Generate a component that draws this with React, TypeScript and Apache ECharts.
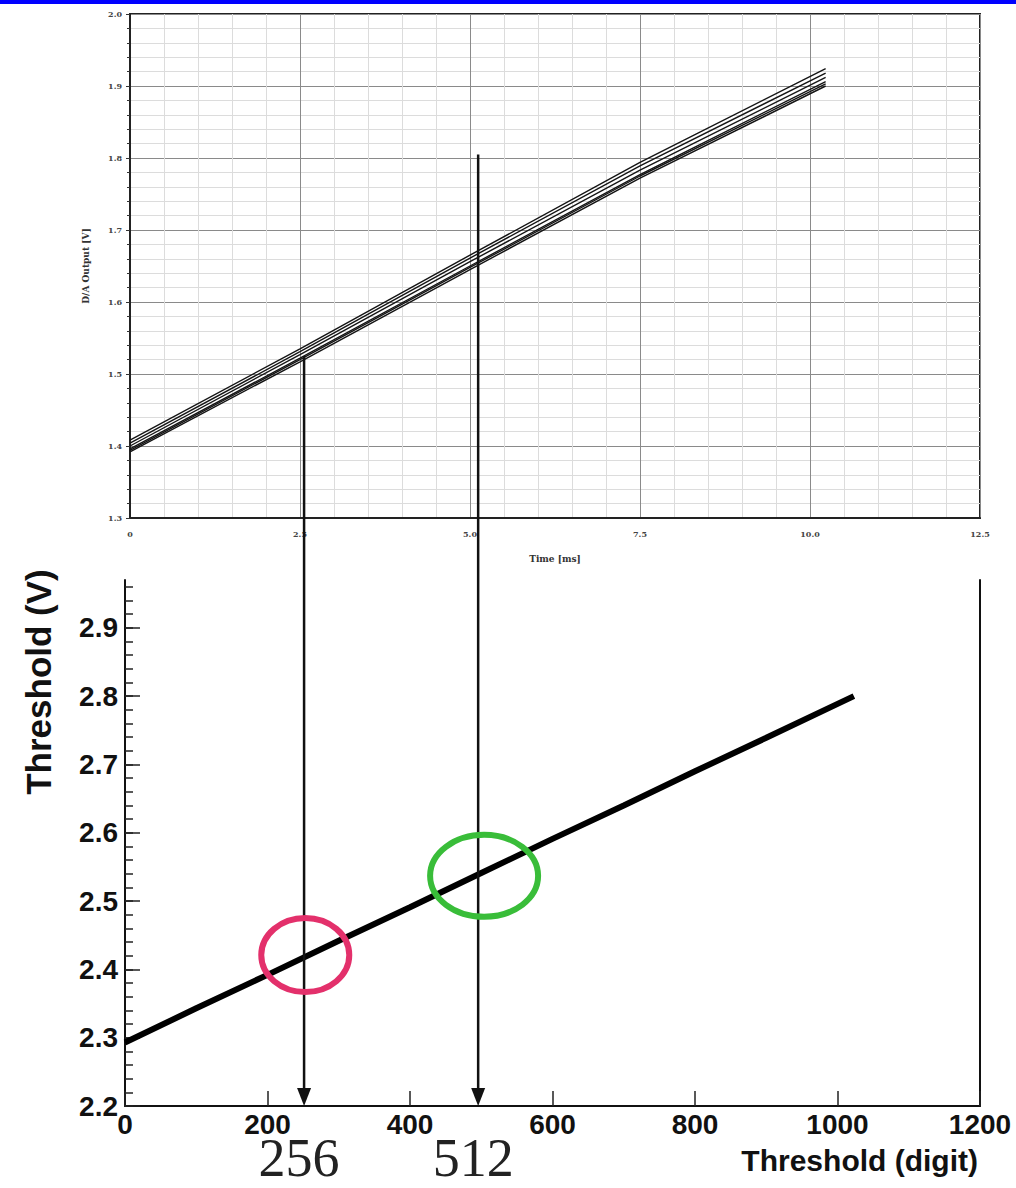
import React, { useEffect, useRef } from "react";
import * as echarts from "echarts";

// ---- Top chart: D/A output vs time (several runs) ----
const TIME_MS = [0, 2.5, 5, 7.5, 10.23];
const DA_RUN_1 = [1.392, 1.517, 1.645, 1.772, 1.9];
const DA_RUN_2 = [1.396, 1.522, 1.65, 1.777, 1.906];
const DA_RUN_3 = [1.4, 1.527, 1.656, 1.783, 1.912];
const DA_RUN_4 = [1.404, 1.531, 1.661, 1.789, 1.918];
const DA_RUN_5 = [1.408, 1.535, 1.665, 1.794, 1.924];
const DA_RUN_6 = [1.394, 1.52, 1.648, 1.775, 1.903];
const DA_RUNS = [DA_RUN_1, DA_RUN_2, DA_RUN_3, DA_RUN_4, DA_RUN_5, DA_RUN_6];

// ---- Bottom chart: threshold (V) vs threshold (digit) ----
const DIGITS = [0, 100, 200, 300, 400, 500, 600, 700, 800, 900, 1023];
const THRESHOLD_V = [2.293, 2.343, 2.392, 2.442, 2.491, 2.541, 2.591, 2.64, 2.69, 2.739, 2.8];

// ---- Tick labels ----
const BOTTOM_Y_LABELS = [2.2, 2.3, 2.4, 2.5, 2.6, 2.7, 2.8, 2.9];
const BOTTOM_Y_MINOR_STEP = 0.02;

// ---- Annotations ----
const MARKED_DIGITS = [256, 512];
const MS_PER_DIGIT = 0.01;
const ARROW_START_V = [1.525, 1.805];
const CIRCLE_CENTERS = [
  [253, 2.421],
  [504, 2.537],
];
const CIRCLE_COLORS = ["#e3306b", "#39bd39"];
const CIRCLE_RADII = [
  [44, 37],
  [54, 41],
];

export default function App() {
  const ref = useRef<HTMLDivElement>(null);

  useEffect(() => {
    if (!ref.current) return;
    const chart = echarts.init(ref.current, null, { renderer: "svg" });

    const minorTicks: number[] = [];
    for (let v = 2.2; v < 2.97 - 1e-9; v += BOTTOM_Y_MINOR_STEP) {
      minorTicks.push(Math.round(v * 100) / 100);
    }

    const smallFont = {
      fontFamily: "DejaVu Serif",
      fontWeight: "bold" as const,
      fontSize: 8,
      color: "#444",
    };
    const bigFont = {
      fontFamily: "Liberation Sans",
      fontWeight: "bold" as const,
      fontSize: 28,
      color: "#111",
    };

    const option: any = {
      animation: false,
      backgroundColor: "#ffffff",
      grid: [
        {
          left: 130,
          top: 14,
          width: 850,
          height: 504,
          show: true,
          borderColor: "#222",
          borderWidth: 2,
        },
        { left: 125, top: 580, width: 855, height: 526 },
      ],
      xAxis: [
        {
          type: "value",
          gridIndex: 0,
          min: 0,
          max: 12.5,
          interval: 2.5,
          axisLine: { show: true, lineStyle: { color: "#222", width: 2 } },
          axisTick: { show: false },
          minorTick: { show: false, splitNumber: 5 },
          splitLine: { show: true, lineStyle: { color: "#8a8a8a", width: 1 } },
          minorSplitLine: { show: true, lineStyle: { color: "#dcdcdc", width: 1 } },
          axisLabel: {
            ...smallFont,
            margin: 12,
            formatter: (v: number) => (v === 0 ? "0" : v.toFixed(1)),
          },
          name: "Time [ms]",
          nameLocation: "middle",
          nameGap: 36,
          nameTextStyle: { ...smallFont, fontSize: 9, color: "#333" },
        },
        {
          type: "value",
          gridIndex: 1,
          min: 0,
          max: 1200,
          interval: 200,
          axisLine: { show: true, lineStyle: { color: "#111", width: 2 } },
          axisTick: { show: true, inside: true, length: 15, lineStyle: { color: "#222", width: 1.5 } },
          splitLine: { show: false },
          axisLabel: { ...bigFont, margin: 4, formatter: (v: number) => String(v) },
        },
      ],
      yAxis: [
        {
          type: "value",
          gridIndex: 0,
          min: 1.3,
          max: 2.0,
          interval: 0.1,
          axisLine: { show: true, lineStyle: { color: "#222", width: 2 } },
          axisTick: { show: true, length: 4, lineStyle: { color: "#333" } },
          minorTick: { show: true, splitNumber: 5, length: 3, lineStyle: { color: "#333" } },
          splitLine: { show: true, lineStyle: { color: "#8a8a8a", width: 1 } },
          minorSplitLine: { show: true, lineStyle: { color: "#dcdcdc", width: 1 } },
          axisLabel: { ...smallFont, margin: 8, formatter: (v: number) => v.toFixed(1) },
          name: "D/A Output [V]",
          nameLocation: "middle",
          nameGap: 40,
          nameTextStyle: { ...smallFont, fontSize: 9, color: "#333" },
        },
        {
          type: "value",
          gridIndex: 1,
          position: "left",
          min: 2.2,
          max: 2.97,
          axisLine: { show: true, lineStyle: { color: "#111", width: 2 } },
          axisTick: {
            show: true,
            inside: true,
            length: 15,
            customValues: BOTTOM_Y_LABELS,
            lineStyle: { color: "#222", width: 1.5 },
          },
          splitLine: { show: false },
          axisLabel: {
            ...bigFont,
            margin: 7,
            customValues: BOTTOM_Y_LABELS,
            formatter: (v: number) => v.toFixed(1),
          },
        },
        {
          type: "value",
          gridIndex: 1,
          position: "left",
          offset: 0,
          min: 2.2,
          max: 2.97,
          axisLine: { show: false },
          axisTick: {
            show: true,
            inside: true,
            length: 8,
            customValues: minorTicks,
            lineStyle: { color: "#222", width: 1.5 },
          },
          axisLabel: { show: false },
          splitLine: { show: false },
        },
        {
          type: "value",
          gridIndex: 1,
          position: "right",
          min: 2.2,
          max: 2.97,
          axisLine: { show: true, lineStyle: { color: "#111", width: 2 } },
          axisTick: { show: false },
          axisLabel: { show: false },
          splitLine: { show: false },
        },
      ],
      series: [
        ...DA_RUNS.map((run, k) => ({
          name: "run" + (k + 1),
          type: "line",
          xAxisIndex: 0,
          yAxisIndex: 0,
          data: TIME_MS.map((t, i) => [t, run[i]]),
          showSymbol: false,
          silent: true,
          lineStyle: { color: "#151515", width: 1.4 },
        })),
        {
          name: "threshold",
          type: "line",
          xAxisIndex: 1,
          yAxisIndex: 1,
          data: DIGITS.map((d, i) => [d, THRESHOLD_V[i]]),
          showSymbol: false,
          silent: true,
          lineStyle: { color: "#000", width: 6 },
        },
      ],
    };

    chart.setOption(option);

    const toTop = (x: number, y: number) =>
      chart.convertToPixel({ gridIndex: 0 } as any, [x, y]) as number[];
    const toBottom = (x: number, y: number) =>
      chart.convertToPixel({ gridIndex: 1 } as any, [x, y]) as number[];

    const baseY = toBottom(0, 2.2)[1];
    const graphics: any[] = [
      {
        type: "rect",
        shape: { x: 0, y: 0, width: 1016, height: 4 },
        style: { fill: "#0000ff" },
        z: 100,
      },
      {
        type: "text",
        x: 38,
        y: 682,
        rotation: Math.PI / 2,
        style: {
          text: "Threshold (V)",
          fontFamily: "Liberation Sans",
          fontWeight: "bold",
          fontSize: 35,
          fill: "#111",
          align: "center",
          verticalAlign: "middle",
        },
      },
      {
        type: "text",
        x: 978,
        y: 1160,
        style: {
          text: "Threshold (digit)",
          fontFamily: "Liberation Sans",
          fontWeight: "bold",
          fontSize: 30,
          fill: "#111",
          align: "right",
          verticalAlign: "middle",
        },
      },
    ];

    MARKED_DIGITS.forEach((d, i) => {
      const [xa, ya] = toTop(d * MS_PER_DIGIT, ARROW_START_V[i]);
      graphics.push({
        type: "line",
        shape: { x1: xa, y1: ya, x2: xa, y2: baseY - 14 },
        style: { stroke: "#111", lineWidth: 2.5 },
        z: 50,
      });
      graphics.push({
        type: "polygon",
        shape: {
          points: [
            [xa - 7, baseY - 18],
            [xa + 7, baseY - 18],
            [xa, baseY],
          ],
        },
        style: { fill: "#111" },
        z: 50,
      });
      graphics.push({
        type: "text",
        x: xa - 5,
        y: baseY + 52,
        style: {
          text: String(d),
          fontFamily: "Liberation Serif",
          fontSize: 54,
          fill: "#222",
          align: "center",
          verticalAlign: "middle",
        },
        z: 50,
      });
    });

    CIRCLE_CENTERS.forEach((c, i) => {
      const [cx, cy] = toBottom(c[0], c[1]);
      graphics.push({
        type: "ellipse",
        shape: { cx, cy, rx: CIRCLE_RADII[i][0], ry: CIRCLE_RADII[i][1] },
        style: { fill: "none", stroke: CIRCLE_COLORS[i], lineWidth: 6 },
        z: 60,
      });
    });

    chart.setOption({ graphic: graphics });

    return () => chart.dispose();
  }, []);

  return (
    <div
      ref={ref}
      style={{ position: "absolute", left: 0, top: 0, width: 1016, height: 1188 }}
    />
  );
}
